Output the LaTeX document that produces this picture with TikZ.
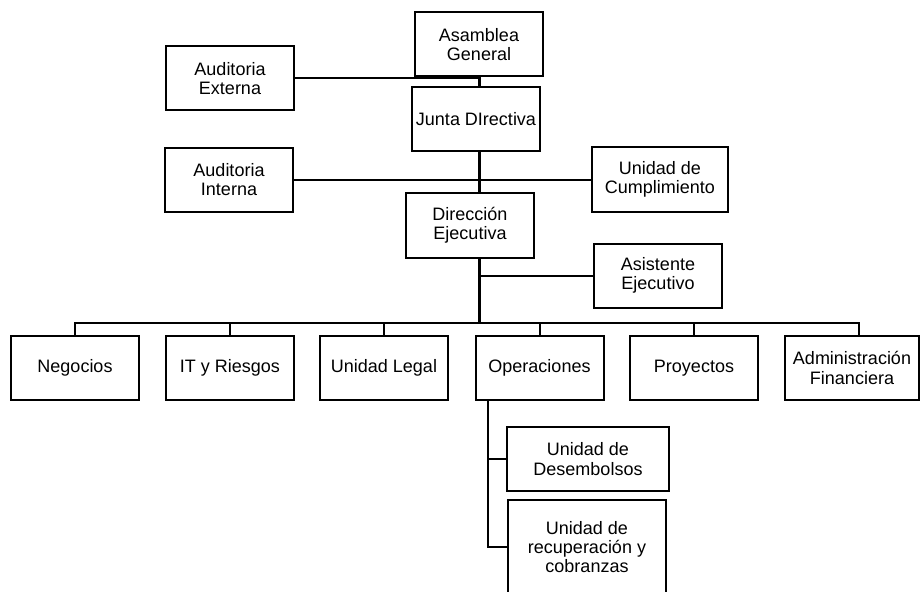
\documentclass[tikz,border=0pt]{standalone}
\usepackage{fontspec}
\setmainfont{Liberation Sans}
\begin{document}
\begin{tikzpicture}[x=0.75pt,y=-0.75pt,line cap=rect,
	font=\fontsize{13.5}{14.5}\selectfont,
	caja/.style={draw,line width=1.5pt,align=center,inner sep=2pt,
		minimum width=96pt,minimum height=48pt},
	rama/.style={line width=1.5pt},
	tronco/.style={line width=2.25pt,line cap=butt}]
	\useasboundingbox (0,0) rectangle (921,592);
	\clip (0,0) rectangle (921,592);
	% cabeza
	\node[caja] (asamblea) at (479,44.5) {Asamblea\\General};
	\node[caja] (junta) at (476,119) {Junta DIrectiva};
	\node[caja] (extaud) at (230,78.5) {Auditoria\\Externa};
	\node[caja] (intaud) at (229,179.5) {Auditoria\\Interna};
	\node[caja,minimum width=102pt,minimum height=48.75pt] (cumpl) at (660,179.5) {Unidad de\\Cumplimiento};
	\node[caja,minimum height=48.75pt] (direc) at (470,225.5) {Dirección\\Ejecutiva};
	\node[caja] (asist) at (658,275.5) {Asistente\\Ejecutivo};
	% gerencias
	\node[caja] (negocios) at (75,368) {Negocios};
	\node[caja] (itries) at (230,368) {IT y Riesgos};
	\node[caja] (legal) at (384,368) {Unidad Legal};
	\node[caja] (oper) at (539.5,368) {Operaciones};
	\node[caja] (proy) at (694,368) {Proyectos};
	\node[caja,minimum width=100.5pt] (admin) at (852,368) {Administración\\Financiera};
	% operaciones
	\node[caja,minimum width=121.5pt] (desemb) at (588,459) {Unidad de\\Desembolsos};
	\node[caja,minimum width=118.5pt,minimum height=70.5pt] (recup) at (587,547) {Unidad de\\recuperación y\\cobranzas};
	\coordinate (bus) at (479,323);
	\coordinate (opv) at ([xshift=9.75pt]oper.south west);
	% lineas
	\draw[tronco] (asamblea.south) -- (asamblea.south |- junta.north);
	\draw[tronco] (asamblea.south |- junta.south) -- (asamblea.south |- direc.north);
	\draw[tronco] (asamblea.south |- direc.south) -- (bus);
	\draw[rama] (extaud.east) -- (extaud.east -| bus);
	\draw[rama] (intaud.east) -- (cumpl.west);
	\draw[rama] (asist.west) -- (asist.west -| bus);
	\draw[rama] (negocios.north |- bus) -- ([xshift=5.25pt]admin.north |- bus);
	\foreach \n in {negocios,itries,legal,oper,proy}
		\draw[rama] (\n.north) -- (\n.north |- bus);
	\draw[rama] ([xshift=5.25pt]admin.north) -- ([xshift=5.25pt]admin.north |- bus);
	\draw[rama] (opv) |- (recup.west);
	\draw[rama] (desemb.west) -- (desemb.west -| opv);
\end{tikzpicture}
\end{document}
